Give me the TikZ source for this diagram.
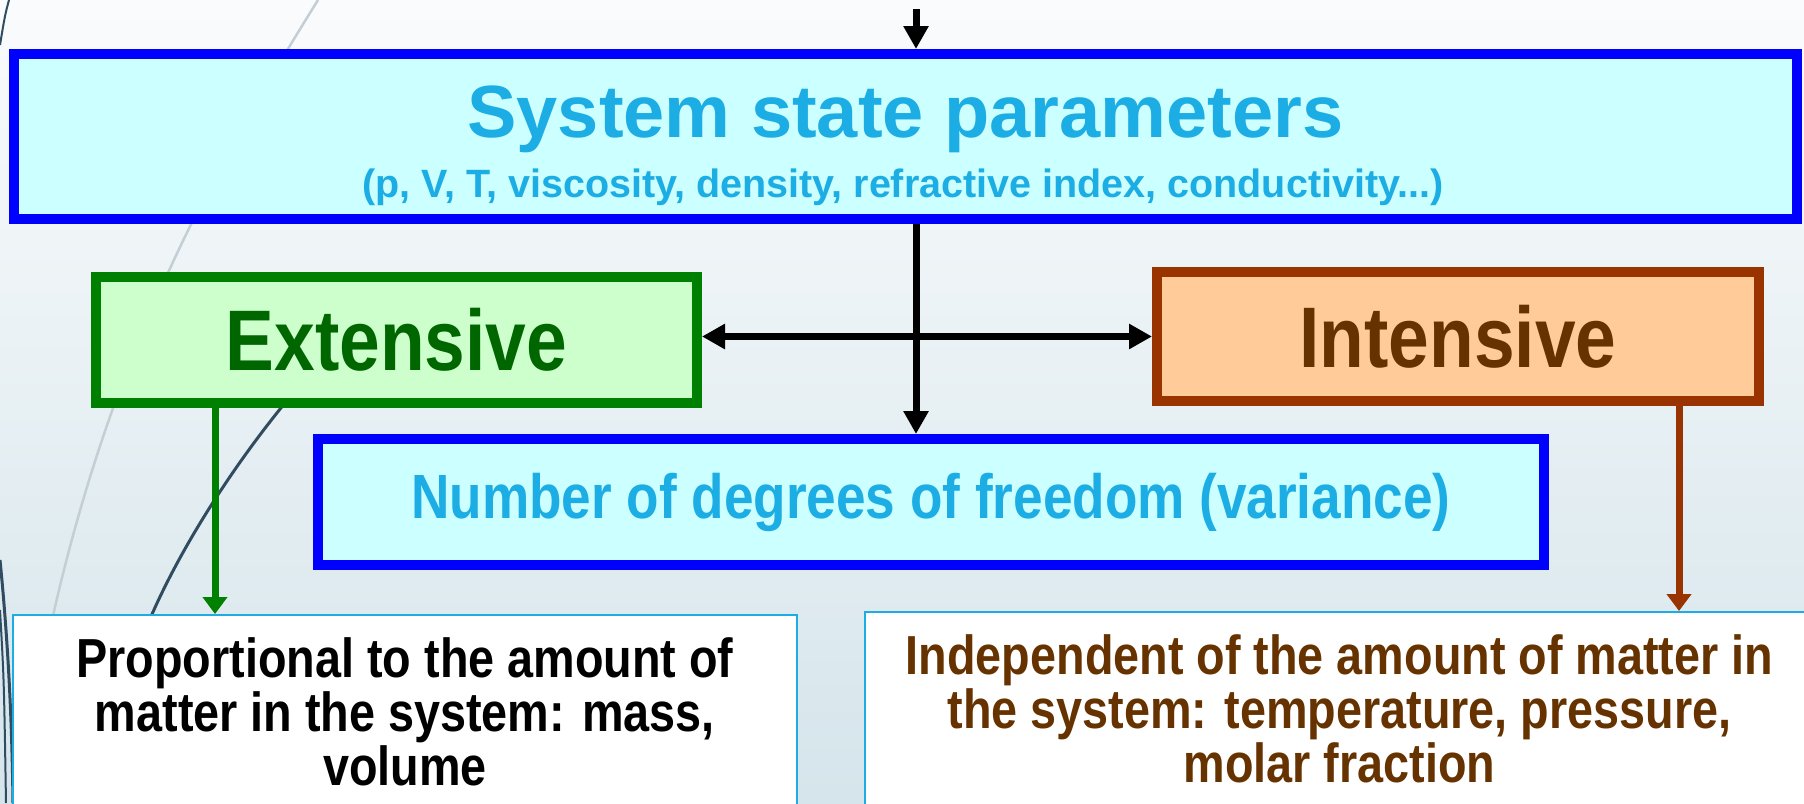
\documentclass[tikz,border=0pt]{standalone}
\usepackage{fontspec}
\setmainfont{Liberation Sans}
\newfontfamily\condfont{Liberation Sans}[FakeStretch=0.85]
\usetikzlibrary{arrows.meta}

\definecolor{bgtop}{HTML}{FAFBFC}
\definecolor{bgbot}{HTML}{D5E5EB}
\definecolor{skyblue}{HTML}{1CADE4}
\definecolor{cyanfill}{HTML}{CCFFFF}
\definecolor{extline}{HTML}{008000}
\definecolor{extfill}{HTML}{CCFFCC}
\definecolor{exttext}{HTML}{006600}
\definecolor{intline}{HTML}{993300}
\definecolor{intfill}{HTML}{FFCC99}
\definecolor{inttext}{HTML}{663300}
\definecolor{swoosh}{HTML}{2F4C60}
\definecolor{swooshlight}{HTML}{C3CFD5}

\begin{document}
\begin{tikzpicture}[x=1pt,y=-1pt]
\tikzset{box/.style={rectangle,line width=10pt,inner sep=0pt},
  bluebox/.style={box,draw=blue,fill=cyanfill,text=skyblue},
  note/.style={rectangle,draw=skyblue,line width=2pt,fill=white,align=center,anchor=north,
    inner xsep=10pt,inner ysep=23pt,font=\condfont\bfseries\fontsize{55}{54}\selectfont},
  link/.style={line width=7pt,-{Triangle[width=24pt,length=23pt]}},
  sublink/.style={line width=7pt,-{Triangle[width=24pt,length=17pt]}}}

\useasboundingbox (0,0) rectangle (1804,803);
\clip (0,0) rectangle (1804,803);
% background and swooshes
\shade[top color=bgtop,bottom color=bgbot] (0,0) rectangle (1804,803);
\draw[swooshlight,line width=2.5pt] (318,0) .. controls (200,190) and (70,420) .. (20,803);
\draw[swoosh,line width=3pt] (300,385) .. controls (240,455) and (185,540) .. (153,612) .. controls (140,640) and (130,670) .. (122,700);
\draw[swoosh,line width=2pt] (9,0) .. controls (5,15) .. (0,45);
\draw[swoosh,line width=3pt] (0,560) .. controls (8,640) and (12,720) .. (13,803);
\draw[swoosh,line width=2pt] (0,610) .. controls (4,680) .. (6,803);

% boxes
\node[bluebox,minimum width=1783pt,minimum height=165pt] (sys) at (905.5,136.5) {};
\node[anchor=base,text=skyblue,font=\bfseries\fontsize{74}{80}\selectfont] (systitle) at (905.5,137) {System state parameters};
\node[anchor=base,text=skyblue,font=\bfseries\fontsize{39.5}{44}\selectfont] (sysvars) at (903,197) {(p, V, T, viscosity, density, refractive index, conductivity...)};
\node[box,draw=extline,fill=extfill,text=exttext,minimum width=601pt,minimum height=126pt,
  font=\condfont\bfseries\fontsize{86}{90}\selectfont] (ext) at (396.5,340) {Extensive};
\node[box,draw=intline,fill=intfill,text=inttext,minimum width=602pt,minimum height=129pt,
  font=\condfont\bfseries\fontsize{86}{90}\selectfont] (int) at (1458,336.5) {Intensive};
\node[bluebox,minimum width=1226pt,minimum height=126pt,
  font=\condfont\bfseries\fontsize{62.5}{70}\selectfont] (var) at (931,502) {Number of degrees of freedom (variance)};
\node[note,text=black,minimum width=784pt] (prop) at (405,614) {Proportional to the amount of\\matter in the system: mass,\\volume};
\node[note,text=inttext,minimum width=949pt] (indep) at (1339.5,611) {Independent of the amount of matter in\\the system: temperature, pressure,\\molar fraction};

% arrows
\coordinate (top) at (916,9);
\coordinate (gx) at (215,0);
\coordinate (bx) at (1679,0);
\draw[link] (top) -- (top |- sys.north);
\draw[link] (sys.south -| top) -- (var.north -| top);
\draw[line width=7pt,{Triangle[width=24pt,length=23pt]}-{Triangle[width=24pt,length=23pt]}] (int.west -| ext.east) -- (int.west);
\draw[sublink,extline] (ext.south -| gx) -- (prop.north -| gx);
\draw[sublink,intline] (int.south -| bx) -- (indep.north -| bx);
\end{tikzpicture}
\end{document}
